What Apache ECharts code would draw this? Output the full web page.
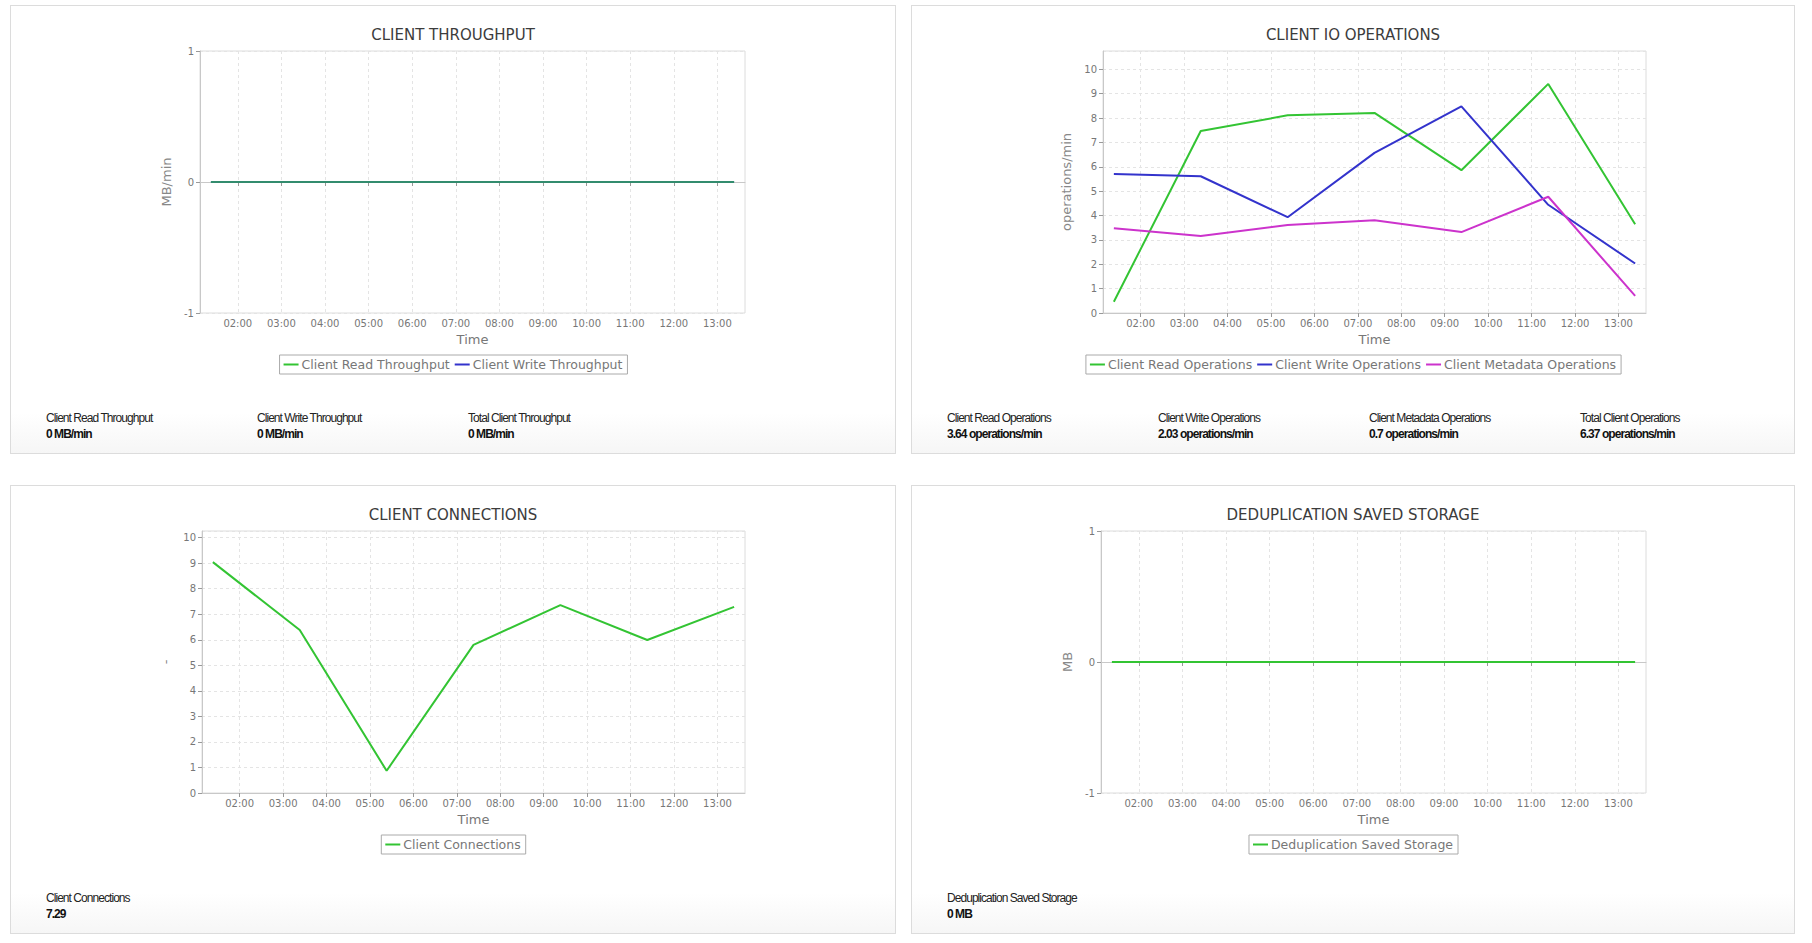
<!DOCTYPE html>
<html>
<head>
<meta charset="utf-8">
<script src="https://cdn.jsdelivr.net/npm/echarts@6/dist/echarts.min.js"></script>
<style>
html,body{margin:0;padding:0;background:#fff;width:1812px;height:943px;overflow:hidden;}
.panel{position:absolute;box-sizing:border-box;border:1px solid #dcdcdc;background:linear-gradient(to bottom,#ffffff 0%,#ffffff 91%,#f6f6f6 100%);}
.chart{position:absolute;left:0;top:0;width:100%;height:380px;}
.stats{position:absolute;left:35px;top:404px;width:850px;height:34px;}
.stat{position:absolute;top:0;white-space:nowrap;font-family:"Liberation Sans",Arial,sans-serif;font-size:12px;letter-spacing:-0.95px;color:#222;line-height:16px;}
.stat b{color:#111;}
</style>
</head>
<body>
<div class="panel" id="p1" style="left:10px;top:5px;width:886px;height:449px;"><div class="chart" id="c1"></div><div class="stats" id="s1"></div></div>
<div class="panel" id="p2" style="left:911px;top:5px;width:884px;height:449px;"><div class="chart" id="c2"></div><div class="stats" id="s2"></div></div>
<div class="panel" id="p3" style="left:10px;top:485px;width:886px;height:449px;"><div class="chart" id="c3"></div><div class="stats" id="s3"></div></div>
<div class="panel" id="p4" style="left:911px;top:485px;width:884px;height:449px;"><div class="chart" id="c4"></div><div class="stats" id="s4"></div></div>
<script>
// ---- data ----
const times = ["01:23","03:23","05:23","07:23","09:23","11:23","13:23"];
const hourTicks = ["02:00","03:00","04:00","05:00","06:00","07:00","08:00","09:00","10:00","11:00","12:00","13:00"];

const readThroughput  = [0, 0, 0, 0, 0, 0, 0];
const writeThroughput = [0, 0, 0, 0, 0, 0, 0];

const readOps  = [0.46, 7.47, 8.11, 8.21, 5.86, 9.40, 3.64];
const writeOps = [5.70, 5.61, 3.93, 6.57, 8.48, 4.44, 2.03];
const metaOps  = [3.48, 3.16, 3.61, 3.81, 3.32, 4.77, 0.70];

const connections = [9.04, 6.38, 0.87, 5.80, 7.36, 5.99, 7.29];

const dedupStorage = [0, 0, 0, 0, 0, 0, 0];

const statsThroughput = [["Client Read Throughput","0 MB/min"],["Client Write Throughput","0 MB/min"],["Total Client Throughput","0 MB/min"]];
const statsOps = [["Client Read Operations","3.64 operations/min"],["Client Write Operations","2.03 operations/min"],["Client Metadata Operations","0.7 operations/min"],["Total Client Operations","6.37 operations/min"]];
const statsConn = [["Client Connections","7.29"]];
const statsDedup = [["Deduplication Saved Storage","0 MB"]];

// ---- helpers ----
const GREEN = '#33c433', BLUE = '#3333cc', MAGENTA = '#cc33cc';
const FONT = 'DejaVu Sans';
function toHours(t){ const p = t.split(':'); return (+p[0]) + (+p[1])/60; }
const xHours = times.map(toHours);
const tickHours = hourTicks.map(toHours);
const xMin = xHours[0] - 0.25, xMax = xHours[xHours.length-1] + 0.25;
function pad(n){ return (n<10?'0':'') + n; }
function pairs(vals){ return xHours.map((h,i)=>[h, vals[i]]); }

function makeOption(cfg){
  return {
    animation:false,
    title:{text:cfg.title,left:'center',top:21,padding:0,
      textStyle:{fontFamily:FONT,fontSize:15,fontWeight:'normal',color:'#3c3c3c'}},
    legend:{data:cfg.legend,left:'center',top:349,
      borderColor:'#aaa',borderWidth:1,padding:[3,5,3,4],
      icon:'rect',itemWidth:15,itemHeight:2,itemGap:5,
      textStyle:{fontFamily:FONT,fontSize:12.5,color:'#777',padding:[0,0,0,-2]}},
    grid:{left:cfg.left,top:45,width:cfg.width,height:262,show:true,borderColor:'#dcdcdc',borderWidth:1,backgroundColor:'transparent'},
    xAxis:{type:'value',min:xMin,max:xMax,
      name:'Time',nameLocation:'middle',nameGap:19,
      nameTextStyle:{fontFamily:FONT,fontSize:13,color:'#777'},
      axisLine:{show:true,lineStyle:{color:'#c8c8c8'}},
      axisTick:{show:true,customValues:tickHours,length:4,lineStyle:{color:'#999'}},
      axisLabel:{customValues:tickHours,margin:5,fontFamily:FONT,fontSize:10,color:'#777',
        formatter:function(v){ return pad(Math.round(v))+':00'; }},
      splitLine:{show:true,lineStyle:{color:'#e4e4e4',type:[3,3]}}},
    yAxis:{type:'value',min:cfg.ymin,max:cfg.ymax,interval:1,
      name:cfg.yname,nameLocation:'middle',nameRotate:90,nameGap:22,
      nameTextStyle:{fontFamily:FONT,fontSize:13,color:'#888'},
      axisLine:{show:true,lineStyle:{color:'#c8c8c8'}},
      axisTick:{show:true,length:4,lineStyle:{color:'#999'}},
      axisLabel:{margin:6,fontFamily:FONT,fontSize:10,color:'#777',showMaxLabel:cfg.showMax},
      splitLine:{show:true,lineStyle:{color:'#e4e4e4',type:[3,3]}}},
    series:cfg.series.map(s=>({type:'line',name:s.name,data:pairs(s.data),
      symbol:'none',color:s.color,z:s.z||2,
      lineStyle:{width:2,color:s.color,opacity:s.opacity==null?1:s.opacity}}))
  };
}

function fillStats(id, items){
  const el = document.getElementById(id);
  items.forEach((it,i)=>{
    const d = document.createElement('div');
    d.className='stat'; d.style.left=(i*211)+'px';
    d.innerHTML = it[0] + '<br><b>' + it[1] + '</b>';
    el.appendChild(d);
  });
}

const charts = [
  ['c1', makeOption({title:'CLIENT THROUGHPUT',left:189,width:545,ymin:-1,ymax:1,showMax:true,yname:'MB/min',
    legend:['Client Read Throughput','Client Write Throughput'],
    series:[{name:'Client Write Throughput',data:writeThroughput,color:BLUE,z:2},
            {name:'Client Read Throughput',data:readThroughput,color:GREEN,z:3,opacity:0.62}]})],
  ['c2', makeOption({title:'CLIENT IO OPERATIONS',left:191,width:543,ymin:0,ymax:10.75,showMax:false,yname:'operations/min',
    legend:['Client Read Operations','Client Write Operations','Client Metadata Operations'],
    series:[{name:'Client Read Operations',data:readOps,color:GREEN},
            {name:'Client Write Operations',data:writeOps,color:BLUE},
            {name:'Client Metadata Operations',data:metaOps,color:MAGENTA}]})],
  ['c3', makeOption({title:'CLIENT CONNECTIONS',left:191,width:543,ymin:0,ymax:10.26,showMax:false,yname:'-',
    legend:['Client Connections'],
    series:[{name:'Client Connections',data:connections,color:GREEN}]})],
  ['c4', makeOption({title:'DEDUPLICATION SAVED STORAGE',left:189,width:545,ymin:-1,ymax:1,showMax:true,yname:'MB',
    legend:['Deduplication Saved Storage'],
    series:[{name:'Deduplication Saved Storage',data:dedupStorage,color:GREEN}]})]
];
charts.forEach(([id,opt])=>{
  const c = echarts.init(document.getElementById(id),null,{renderer:'svg'});
  c.setOption(opt);
});
fillStats('s1', statsThroughput);
fillStats('s2', statsOps);
fillStats('s3', statsConn);
fillStats('s4', statsDedup);
</script>
</body>
</html>
